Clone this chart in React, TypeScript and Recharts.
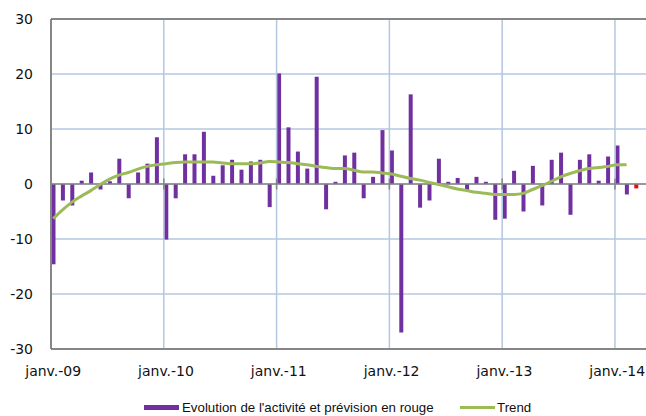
import React from 'react';
import {
  ComposedChart,
  Bar,
  Line,
  XAxis,
  YAxis,
  CartesianGrid,
  ReferenceLine,
  Legend,
  Cell,
} from 'recharts';

// Monthly activity change, janv.-09 .. févr.-14
const activity = [
  -14.6, -3.0, -3.9, 0.6, 2.1, -1.0, 0.5, 4.6, -2.6, 2.1, 3.7, 8.5,
  -10.1, -2.6, 5.4, 5.4, 9.5, 1.5, 3.4, 4.4, 2.6, 4.1, 4.4, -4.2,
  20.1, 10.3, 5.9, 2.8, 19.5, -4.6, 0.4, 5.2, 5.7, -2.6, 1.3, 9.8,
  6.1, -27.0, 16.3, -4.3, -3.0, 4.6, 0.4, 1.1, -1.2, 1.3, 0.4, -6.5,
  -6.3, 2.4, -5.0, 3.3, -3.9, 4.4, 5.7, -5.6, 4.4, 5.4, 0.6, 5.0,
  7.0, -1.9,
];
// Forecast (red), mars-14
const forecast = [-0.8];

// Trend, janv.-09 .. févr.-14
const trend = [
  -6.3, -4.7, -3.3, -2.2, -1.2, -0.1, 0.9, 1.6, 2.1, 2.7, 3.2, 3.5,
  3.7, 3.9, 4.0, 4.0, 4.0, 4.0, 3.8, 3.7, 3.7, 3.7, 3.8, 4.1,
  4.0, 3.9, 3.7, 3.5, 3.2, 3.0, 2.8, 2.8, 2.5, 2.2, 2.2, 2.0,
  1.8, 1.4, 1.0, 0.7, 0.3, -0.1, -0.5, -0.9, -1.2, -1.5, -1.7, -1.9,
  -1.9, -1.9, -1.7, -1.0, -0.3, 0.5, 1.3, 1.9, 2.4, 2.8, 3.0, 3.2,
  3.5, 3.5,
];

const tickMonths = [0, 12, 24, 36, 48, 60];
const tickLabels = ['janv.-09', 'janv.-10', 'janv.-11', 'janv.-12', 'janv.-13', 'janv.-14'];
const yTicks = [-30, -20, -10, 0, 10, 20, 30];

const values = [...activity, ...forecast];
const data = values.map((v, i) => ({
  m: i,
  value: v,
  isForecast: i >= activity.length,
  trend: i < trend.length ? trend[i] : null,
}));

const PURPLE = '#7030a0';
const RED = '#ff0000';
const GREEN = '#9bbb59';
const FRAME = '#868686';
const GRID = '#b3c7e0';

const LegendContent = () => (
  <div
    style={{
      position: 'relative',
      height: 16,
      width: 646,
      fontFamily: '"Liberation Sans", Arial, sans-serif',
      fontSize: 13.3,
      color: '#111',
    }}
  >
    <div style={{ position: 'absolute', left: 144, top: 5, width: 35, height: 5, background: PURPLE }} />
    <span style={{ position: 'absolute', left: 182, top: 0, lineHeight: '16px', whiteSpace: 'nowrap' }}>
      Evolution de l'activité et prévision en rouge
    </span>
    <div style={{ position: 'absolute', left: 460, top: 6, width: 35, height: 3, background: GREEN }} />
    <span style={{ position: 'absolute', left: 497, top: 0, lineHeight: '16px', whiteSpace: 'nowrap' }}>Trend</span>
  </div>
);

const axisFont = { fontFamily: '"DejaVu Sans", sans-serif', fontSize: 14, fill: '#111' };

export default function App() {
  return (
    <div style={{ position: 'absolute', left: 0, top: 0, width: 646, height: 416, background: '#fff' }}>
      <ComposedChart
        width={646}
        height={416}
        data={data}
        margin={{ top: 19, right: 0, left: 0, bottom: 0 }}
      >
        <XAxis
          xAxisId="grid"
          type="number"
          dataKey="m"
          domain={[0, 63.3]}
          ticks={tickMonths}
          allowDataOverflow
          height={0}
          tick={false}
          tickLine={false}
          axisLine={false}
        />
        <CartesianGrid vertical={false} stroke={GRID} strokeWidth={1.5} />
        {tickMonths.slice(1).map((t) => (
          <ReferenceLine key={'g' + t} xAxisId="grid" x={t} stroke={GRID} strokeWidth={1.5} />
        ))}
        <XAxis
          type="number"
          dataKey="m"
          domain={[-0.234, 63.066]}
          allowDataOverflow
          ticks={tickMonths}
          tickFormatter={(v: number) => tickLabels[tickMonths.indexOf(v)] ?? ''}
          tick={axisFont}
          tickLine={false}
          tickSize={0}
          tickMargin={17}
          height={51}
          axisLine={{ stroke: FRAME, strokeWidth: 2 }}
          interval={0}
        />
        <YAxis
          type="number"
          domain={[-30, 30]}
          ticks={yTicks}
          tick={axisFont}
          tickLine={false}
          tickSize={0}
          tickMargin={18}
          width={51}
          axisLine={{ stroke: FRAME, strokeWidth: 2 }}
          interval={0}
        />
        <ReferenceLine y={30} stroke={FRAME} strokeWidth={2} />
        <Bar dataKey="value" barSize={4} isAnimationActive={false} legendType="none">
          {data.map((d, i) => (
            <Cell key={i} fill={d.isForecast ? RED : PURPLE} />
          ))}
        </Bar>
        <ReferenceLine y={0} stroke={FRAME} strokeWidth={1.5} />
        {tickMonths.slice(1).map((t) => (
          <ReferenceLine
            key={t}
            xAxisId="grid"
            segment={[{ x: t, y: -1 }, { x: t, y: 1 }]}
            stroke={FRAME}
            strokeWidth={1.5}
          />
        ))}
        <Line
          type="monotone"
          dataKey="trend"
          stroke={GREEN}
          strokeWidth={3}
          dot={false}
          activeDot={false}
          connectNulls={false}
          isAnimationActive={false}
        />
        <Legend
          verticalAlign="bottom"
          content={<LegendContent />}
          wrapperStyle={{ left: 0, bottom: 0, width: 646, height: 16 }}
        />
      </ComposedChart>
    </div>
  );
}
